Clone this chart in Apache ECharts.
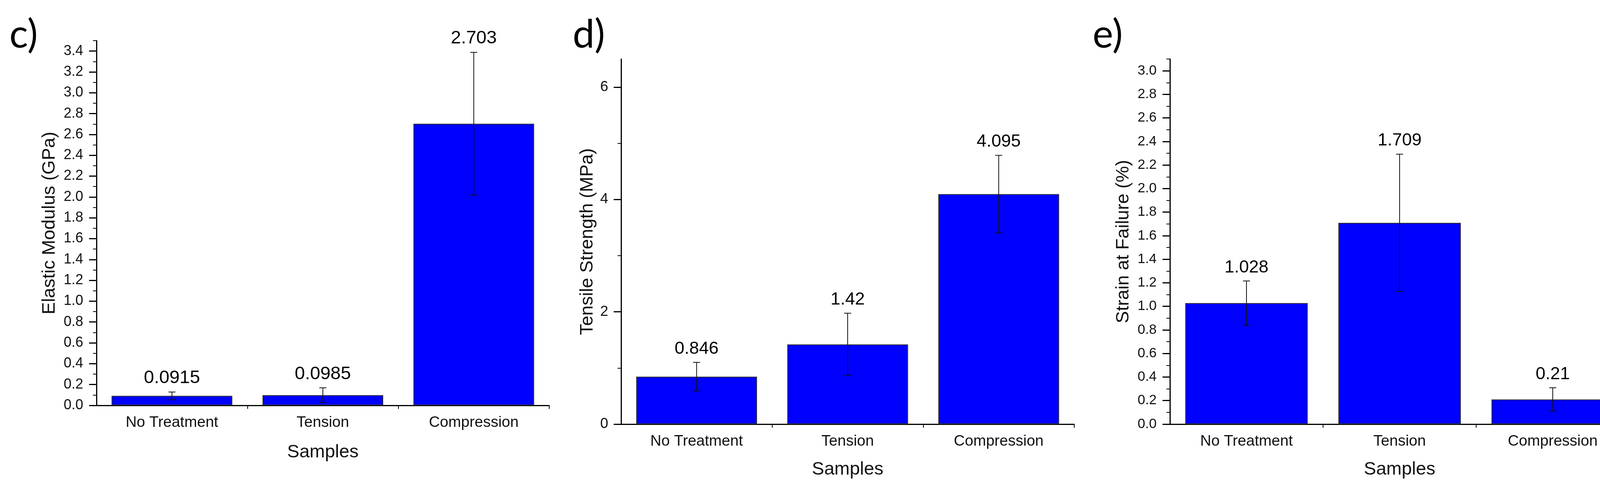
<!DOCTYPE html>
<html>
<head>
<meta charset="utf-8">
<script src="https://cdn.jsdelivr.net/npm/echarts@6/dist/echarts.min.js"></script>
<style>
  html, body { margin: 0; padding: 0; background: #fff; }
  #myChartDiv { width: 4187px; height: 1256px; }
</style>
</head>
<body>
<div id="myChartDiv"></div>
<script>
const categories = ['No Treatment', 'Tension', 'Compression'];

// c) elastic modulus
const modulusMean = [0.0915, 0.0985, 2.703];
const modulusErr = [0.037, 0.07, 0.685];
const modulusTicks = [0, 0.2, 0.4, 0.6, 0.8, 1.0, 1.2, 1.4, 1.6, 1.8, 2.0, 2.2, 2.4, 2.6, 2.8, 3.0, 3.2, 3.4];

// d) tensile strength
const strengthMean = [0.846, 1.42, 4.095];
const strengthErr = [0.254, 0.555, 0.69];
const strengthTicks = [0, 2, 4, 6];

// e) strain at failure
const strainMean = [1.028, 1.709, 0.21];
const strainErr = [0.188, 0.583, 0.099];
const strainTicks = [0, 0.2, 0.4, 0.6, 0.8, 1.0, 1.2, 1.4, 1.6, 1.8, 2.0, 2.2, 2.4, 2.6, 2.8, 3.0];

(() => {
  let myChart = echarts.init(document.getElementById('myChartDiv'));
  const FONT = 'Liberation Sans, Arial, sans-serif';

  const panels = [
    { letter: 'c)', lx: 24, grid: { left: 247, top: 104, width: 1159, height: 933 },
      yName: 'Elastic Modulus (GPa)', yGap: 96, max: 3.5, ticks: modulusTicks, step: 0.2, digits: 1,
      tickFont: 36, tickMargin: 34, valFont: 47, mean: modulusMean, err: modulusErr, xGap: 97 },
    { letter: 'd)', lx: 1466, grid: { left: 1590, top: 151, width: 1160, height: 934 },
      yName: 'Tensile Strength (MPa)', yGap: 62, max: 6.5, ticks: strengthTicks, step: 2, digits: 0,
      tickFont: 37, tickMargin: 33, valFont: 45, mean: strengthMean, err: strengthErr, xGap: 93 },
    { letter: 'e)', lx: 2797, grid: { left: 2995, top: 151, width: 1176, height: 934 },
      yName: 'Strain at Failure (%)', yGap: 95, max: 3.1, ticks: strainTicks, step: 0.2, digits: 1,
      tickFont: 35, tickMargin: 34, valFont: 45, mean: strainMean, err: strainErr, xGap: 93 }
  ];

  const errorRender = (valFont) => (params, api) => {
    const i = api.value(0), m = api.value(1), e = api.value(2);
    const top = api.coord([i, m + e]);
    const bot = api.coord([i, m - e]);
    const half = 9;
    const st = { stroke: '#111', lineWidth: 2 };
    return {
      type: 'group',
      children: [
        { type: 'line', shape: { x1: top[0], y1: top[1], x2: bot[0], y2: bot[1] }, style: st },
        { type: 'line', shape: { x1: top[0] - half, y1: top[1], x2: top[0] + half, y2: top[1] }, style: st },
        { type: 'line', shape: { x1: bot[0] - half, y1: bot[1], x2: bot[0] + half, y2: bot[1] }, style: st },
        { type: 'text', x: top[0], y: top[1] - 12,
          style: { text: String(m), fill: '#000', fontSize: valFont, fontFamily: FONT,
                   align: 'center', verticalAlign: 'bottom' } }
      ]
    };
  };

  const grid = [], xAxis = [], yAxis = [], series = [], graphic = [];

  panels.forEach((p, k) => {
    grid.push(p.grid);
    graphic.push({
      type: 'text', left: p.lx, top: 40,
      style: { text: p.letter, fontSize: 100, fontFamily: 'Lato, Open Sans, sans-serif', fill: '#000' }
    });

    // category axis with ticks at category centres
    xAxis.push({
      type: 'category', gridIndex: k, data: categories, position: 'bottom',
      name: 'Samples', nameLocation: 'middle', nameGap: p.xGap,
      nameTextStyle: { fontSize: 47, fontFamily: FONT, color: '#111' },
      axisLine: { onZero: false, lineStyle: { color: '#000', width: 3 } },
      axisTick: { alignWithLabel: true, length: 19, lineStyle: { color: '#000', width: 3 } },
      axisLabel: { margin: 25, fontSize: 39, fontFamily: FONT, color: '#111' }
    });
    // minor ticks at category boundaries
    xAxis.push({
      type: 'value', gridIndex: k, min: 0, max: 3, position: 'bottom',
      axisLine: { show: false },
      axisTick: { show: true, length: 9, customValues: [1, 2, 3], lineStyle: { color: '#000', width: 2 } },
      axisLabel: { show: false }, splitLine: { show: false }
    });

    const minors = p.ticks.map(t => t + p.step / 2).filter(t => t <= p.max + 1e-9);
    yAxis.push({
      type: 'value', gridIndex: k, min: 0, max: p.max, position: 'left',
      name: p.yName, nameLocation: 'middle', nameGap: p.yGap,
      nameTextStyle: { fontSize: 47, fontFamily: FONT, color: '#111' },
      axisLine: { show: true, onZero: false, lineStyle: { color: '#000', width: 3 } },
      axisTick: { show: true, length: 19, customValues: p.ticks, lineStyle: { color: '#000', width: 3 } },
      axisLabel: { customValues: p.ticks, margin: p.tickMargin, fontSize: p.tickFont, fontFamily: FONT, color: '#111',
                   formatter: v => v.toFixed(p.digits) },
      splitLine: { show: false }
    });
    yAxis.push({
      type: 'value', gridIndex: k, min: 0, max: p.max, position: 'left',
      axisLine: { show: false },
      axisTick: { show: true, length: 9, customValues: minors, lineStyle: { color: '#000', width: 2 } },
      axisLabel: { show: false }, splitLine: { show: false }
    });

    series.push({
      type: 'bar', xAxisIndex: 2 * k, yAxisIndex: 2 * k, barWidth: '80%',
      itemStyle: { color: '#0000FF', borderColor: '#333', borderWidth: 2 },
      data: p.mean
    });
    series.push({
      type: 'custom', xAxisIndex: 2 * k, yAxisIndex: 2 * k, z: 5, clip: false,
      renderItem: errorRender(p.valFont),
      data: p.mean.map((m, i) => [i, m, p.err[i]])
    });
  });

  let option = {
    animation: false,
    backgroundColor: '#ffffff',
    grid: grid,
    xAxis: xAxis,
    yAxis: yAxis,
    graphic: graphic,
    series: series
  };

  myChart.setOption(option);
})();
</script>
</body>
</html>
